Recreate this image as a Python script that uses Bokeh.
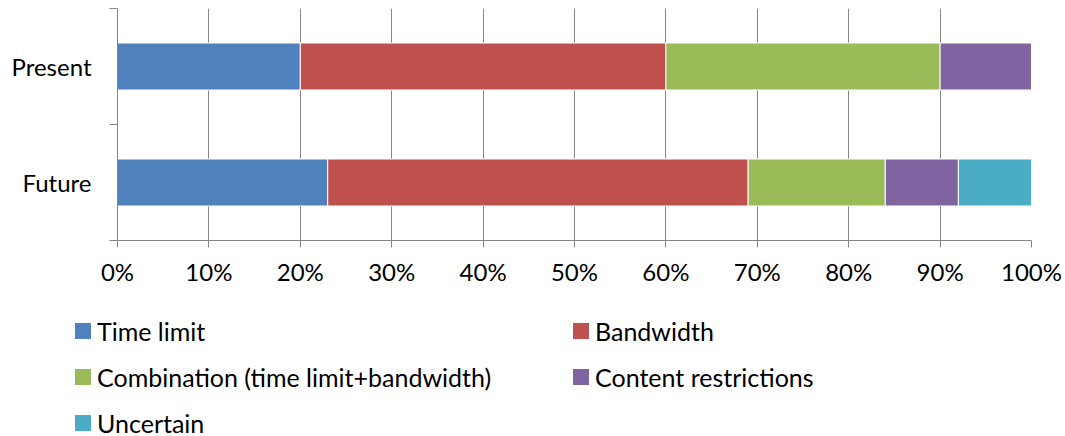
from bokeh.plotting import figure
from bokeh.layouts import column
from bokeh.models import ColumnDataSource, FixedTicker, Range1d, Div
from bokeh.embed import file_html
from bokeh.resources import INLINE

categories = ["Present", "Future"]
series_names = ["Time limit", "Bandwidth", "Combination (time limit+bandwidth)",
                "Content restrictions", "Uncertain"]
time_limit = [20, 23]
bandwidth = [40, 46]
combination = [30, 15]
content_restrictions = [10, 8]
uncertain = [0, 8]
x_ticks = [0, 10, 20, 30, 40, 50, 60, 70, 80, 90, 100]

colors = ["#4F81BD", "#C0504D", "#9BBB59", "#8064A2", "#4BACC6"]
FONT = "Lato"
FS = "24px"
LEG_FS = 25
AXIS_COLOR = "#868686"
W = 1065

# category positions: Present on top
ypos = [1.5, 0.5]
series = [time_limit, bandwidth, combination, content_restrictions, uncertain]

p = figure(width=W, height=293, output_backend="svg", toolbar_location=None,
           x_range=Range1d(0, 100), y_range=Range1d(0, 2),
           min_border_left=117, min_border_right=34, min_border_top=8,
           min_border_bottom=53)
p.outline_line_color = None

left = [0.0, 0.0]
for name, vals, col in zip(series_names, series, colors):
    right = [l + v for l, v in zip(left, vals)]
    src = ColumnDataSource(dict(y=ypos, left=left, right=right))
    p.hbar(y="y", left="left", right="right", height=0.405, source=src,
           fill_color=col, line_color="white", line_width=1)
    left = right

# axes
p.xaxis.ticker = FixedTicker(ticks=x_ticks)
p.xaxis.major_label_overrides = {t: f"{t}%" for t in x_ticks}
p.xaxis.major_tick_out = 7
p.xaxis.major_tick_in = 0
p.xaxis.minor_tick_line_color = None
p.xaxis.axis_line_color = AXIS_COLOR
p.xaxis.major_tick_line_color = AXIS_COLOR
p.xaxis.major_label_standoff = 9
p.xaxis.major_label_text_font = FONT
p.xaxis.major_label_text_font_size = FS
p.xaxis.major_label_text_color = "#000000"

p.yaxis.ticker = FixedTicker(ticks=[1.5, 0.5], minor_ticks=[0, 1, 2])
p.yaxis.major_label_overrides = {1.5: categories[0], 0.5: categories[1]}
p.yaxis.major_tick_out = 0
p.yaxis.major_tick_in = 0
p.yaxis.minor_tick_out = 8
p.yaxis.minor_tick_in = 0
p.yaxis.minor_tick_line_color = AXIS_COLOR
p.yaxis.axis_line_color = AXIS_COLOR
p.yaxis.major_label_standoff = 18
p.yaxis.major_label_text_font = FONT
p.yaxis.major_label_text_font_size = FS
p.yaxis.major_label_text_color = "#000000"

p.xgrid.ticker = FixedTicker(ticks=x_ticks)
p.xgrid.grid_line_color = AXIS_COLOR
p.ygrid.grid_line_color = None

# legend block below the chart (HTML, real text)
LH = 143
col_x = [75, 573]
row_y = [37.5, 84, 129.5]
parts = []
for i, (name, col) in enumerate(zip(series_names, colors)):
    x0 = col_x[i % 2]
    cy = row_y[i // 2]
    parts.append(
        f'<div style="position:absolute;left:{x0}px;top:{cy - 8}px;'
        f'width:16px;height:16px;background:{col};"></div>')
    parts.append(
        f'<div style="position:absolute;left:{x0 + 22}px;top:{cy - 13}px;'
        f'height:26px;line-height:26px;white-space:nowrap;">{name}</div>')
html = (f'<div style="position:relative;width:{W}px;height:{LH}px;'
        f'font-family:{FONT};font-size:{LEG_FS}px;color:#000000;">'
        + "".join(parts) + "</div>")
legend_div = Div(text=html, width=W, height=LH, margin=0)

layout = column(p, legend_div, spacing=0)
open("out.html", "w").write(file_html(layout, INLINE))
